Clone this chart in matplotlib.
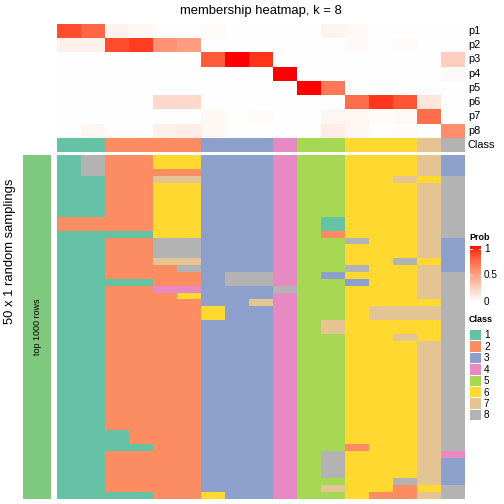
import numpy as np
import matplotlib
matplotlib.use("Agg")
import matplotlib.pyplot as plt
from matplotlib.colors import ListedColormap, BoundaryNorm
from matplotlib.patches import Rectangle

plt.rcParams['font.family'] = ['Liberation Sans', 'DejaVu Sans']

title = "membership heatmap, k = 8"
prob_labels = ["p1", "p2", "p3", "p4", "p5", "p6", "p7", "p8"]
n_cols = 17

# membership probabilities (rows p1..p8, 17 samples)
p1 = [0.85, 0.75, 0.07, 0.04, 0, 0, 0.02, 0, 0, 0, 0, 0.06, 0.03, 0, 0, 0, 0]
p2 = [0.08, 0.08, 0.85, 0.9, 0.55, 0.5, 0, 0, 0, 0, 0, 0, 0.03, 0, 0.02, 0, 0]
p3 = [0, 0, 0, 0, 0, 0, 0.8, 1.0, 0.92, 0, 0, 0, 0, 0, 0, 0, 0.25]
p4 = [0, 0, 0, 0, 0, 0, 0, 0, 0, 1.0, 0, 0, 0, 0, 0, 0, 0.03]
p5 = [0, 0, 0, 0, 0, 0, 0, 0, 0, 0, 1.0, 0.68, 0, 0, 0, 0, 0]
p6 = [0, 0, 0, 0, 0.2, 0.2, 0, 0, 0, 0, 0, 0, 0.72, 0.92, 0.82, 0.13, 0]
p7 = [0, 0, 0, 0, 0, 0, 0.04, 0, 0.02, 0, 0, 0.05, 0.05, 0.02, 0.03, 0.72, 0]
p8 = [0, 0.05, 0, 0, 0.08, 0.1, 0.04, 0, 0, 0, 0, 0.1, 0.05, 0, 0.02, 0, 0.58]

class_row = [1, 1, 2, 2, 2, 2, 3, 3, 3, 4, 5, 5, 6, 6, 6, 7, 8]

# class assignment in each of 50 random samplings: base row plus deviations
n_samplings = 50
base_sampling = [1, 1, 2, 2, 2, 2, 3, 3, 3, 4, 5, 5, 6, 6, 6, 7, 8]
deviations = {
    0: {1: 8, 4: 6, 5: 6, 16: 3},
    1: {1: 8, 4: 6, 5: 6, 16: 3},
    2: {1: 8, 16: 3},
    3: {4: 7, 5: 7, 14: 7, 15: 6},
    4: {4: 6, 5: 6},
    5: {4: 6, 5: 6},
    6: {4: 6, 5: 6},
    7: {4: 6, 5: 6},
    8: {4: 6, 5: 6},
    9: {0: 2, 1: 2, 4: 6, 5: 6, 11: 1},
    10: {0: 2, 1: 2, 4: 6, 5: 6, 11: 1},
    11: {2: 1, 3: 1, 4: 6, 5: 6, 11: 2},
    12: {4: 8, 5: 8, 12: 8, 16: 3},
    13: {4: 8, 5: 8, 16: 3},
    14: {4: 8, 5: 8, 16: 3},
    15: {4: 7, 5: 7, 14: 8, 15: 6, 16: 3},
    16: {5: 8, 12: 8, 16: 3},
    17: {7: 8, 8: 8, 11: 3},
    18: {2: 1, 3: 1, 7: 8, 8: 8, 12: 3},
    19: {4: 4, 5: 4, 9: 8},
    20: {5: 6},
    21: {8: 7, 15: 6},
    22: {6: 6, 13: 7, 14: 7, 15: 7},
    23: {6: 6, 13: 7, 14: 7, 15: 7},
    24: {11: 7, 15: 6},
    25: {11: 7, 15: 6},
    26: {14: 7, 15: 6},
    40: {2: 1},
    41: {2: 1},
    42: {2: 1, 3: 1, 12: 2},
    43: {11: 8, 16: 4},
    44: {11: 8, 16: 3},
    45: {11: 8, 16: 3},
    46: {11: 8, 16: 3},
    47: {14: 8, 16: 3},
    48: {11: 7, 14: 2, 15: 6},
    49: {2: 1, 3: 1, 6: 6, 13: 2, 14: 2},
}

class_names = ["1", "2", "3", "4", "5", "6", "7", "8"]
class_colors = ["#66C2A5", "#FC8D62", "#8DA0CB", "#E78AC3",
                "#A6D854", "#FFD92F", "#E5C494", "#B3B3B3"]
bar_color = "#7FC97F"

# ---------- white->red colormap interpolated in LAB space ----------
def srgb_to_lab(rgb):
    rgb = np.asarray(rgb, float)
    lin = np.where(rgb <= 0.04045, rgb / 12.92, ((rgb + 0.055) / 1.055) ** 2.4)
    M = np.array([[0.4124, 0.3576, 0.1805],
                  [0.2126, 0.7152, 0.0722],
                  [0.0193, 0.1192, 0.9505]])
    xyz = M @ lin
    wp = np.array([0.95047, 1.0, 1.08883])
    t = xyz / wp
    f = np.where(t > 0.008856, np.cbrt(t), 7.787 * t + 16 / 116)
    L = 116 * f[1] - 16
    a = 500 * (f[0] - f[1])
    b = 200 * (f[1] - f[2])
    return np.array([L, a, b])

def lab_to_srgb(lab):
    L, a, b = lab
    fy = (L + 16) / 116
    fx = fy + a / 500
    fz = fy - b / 200
    f = np.array([fx, fy, fz])
    t = np.where(f ** 3 > 0.008856, f ** 3, (f - 16 / 116) / 7.787)
    wp = np.array([0.95047, 1.0, 1.08883])
    xyz = t * wp
    Minv = np.array([[3.2406, -1.5372, -0.4986],
                     [-0.9689, 1.8758, 0.0415],
                     [0.0557, -0.2040, 1.0570]])
    lin = Minv @ xyz
    lin = np.clip(lin, 0, 1)
    rgb = np.where(lin <= 0.0031308, 12.92 * lin, 1.055 * lin ** (1 / 2.4) - 0.055)
    return np.clip(rgb, 0, 1)

lab_w = srgb_to_lab([1, 1, 1])
lab_r = srgb_to_lab([1, 0, 0])
cm_colors = [lab_to_srgb(lab_w + (lab_r - lab_w) * s) for s in np.linspace(0, 1, 256)]
prob_cmap = ListedColormap(cm_colors)

class_cmap = ListedColormap(class_colors)
class_norm = BoundaryNorm(np.arange(0.5, 9.5, 1), 8)

# ---------- figure ----------
W = H = 504
fig = plt.figure(figsize=(7, 7), dpi=72)

def px_axes(x0, y0, x1, y1):
    return fig.add_axes([x0 / W, 1 - y1 / H, (x1 - x0) / W, (y1 - y0) / H])

left, right = 57, 465

# probability heatmap
prob = np.array([p1, p2, p3, p4, p5, p6, p7, p8])
ax_p = px_axes(left, 24, right, 137.7)
ax_p.imshow(prob, cmap=prob_cmap, vmin=0, vmax=1, aspect='auto', interpolation='nearest')
ax_p.set_axis_off()
for i, lab in enumerate(prob_labels):
    fig.text(468 / W, 1 - (24 + 14.2 * (i + 0.5)) / H, lab, fontsize=11, va='center', ha='left')

# class row
ax_c = px_axes(left, 137.7, right, 152.3)
ax_c.imshow(np.array([class_row]), cmap=class_cmap, norm=class_norm, aspect='auto', interpolation='nearest')
ax_c.set_axis_off()
fig.text(468 / W, 1 - 145 / H, "Class", fontsize=11, va='center', ha='left')

# sampling matrix
mat = np.array([base_sampling] * n_samplings)
for r, d in deviations.items():
    for c, v in d.items():
        mat[r, c] = v
ax_m = px_axes(left, 155, right, 499)
ax_m.imshow(mat, cmap=class_cmap, norm=class_norm, aspect='auto', interpolation='nearest')
ax_m.set_axis_off()

# left annotation bar
ax_b = px_axes(23, 155, 51, 499)
ax_b.add_patch(Rectangle((0, 0), 1, 1, color=bar_color))
ax_b.set_xlim(0, 1); ax_b.set_ylim(0, 1)
ax_b.set_axis_off()
ax_b.text(0.5, 0.5, "top 1000 rows", rotation=90, ha='center', va='center', fontsize=9)

fig.text(10 / W, 1 - 251 / H, "50 x 1 random samplings", rotation=90,
         ha='center', va='center', fontsize=13)

fig.text(261 / W, 1 - 11 / H, title, ha='center', va='center', fontsize=13)

# Prob colorbar legend
fig.text(469 / W, 1 - 238 / H, "Prob", fontsize=9, fontweight='bold', va='center', ha='left')
ax_cb = px_axes(470, 246, 481, 302)
grad = np.linspace(1, 0, 256).reshape(-1, 1)
ax_cb.imshow(grad, cmap=prob_cmap, vmin=0, vmax=1, aspect='auto', interpolation='bilinear')
ax_cb.set_axis_off()
for v, y in [(1, 248.5), (0.5, 275), (0, 302)]:
    fig.text(484 / W, 1 - y / H, f"{v:g}", fontsize=10, va='center', ha='left')
    fig.add_artist(plt.Line2D([470 / W, 472 / W], [1 - y / H] * 2, color='white', lw=0.8))
    fig.add_artist(plt.Line2D([479 / W, 481 / W], [1 - y / H] * 2, color='white', lw=0.8))

# Class legend
fig.text(469 / W, 1 - 320 / H, "Class", fontsize=9, fontweight='bold', va='center', ha='left')
for i, (nm, col) in enumerate(zip(class_names, class_colors)):
    y0 = 330 + i * 11.4
    fig.add_artist(Rectangle((470 / W, 1 - (y0 + 10.4) / H), 11 / W, 10.4 / H,
                             facecolor=col, edgecolor='none', transform=fig.transFigure))
    fig.text(484 / W, 1 - (y0 + 5.5) / H, nm, fontsize=10, va='center', ha='left')

fig.savefig("out.png", dpi=72)
